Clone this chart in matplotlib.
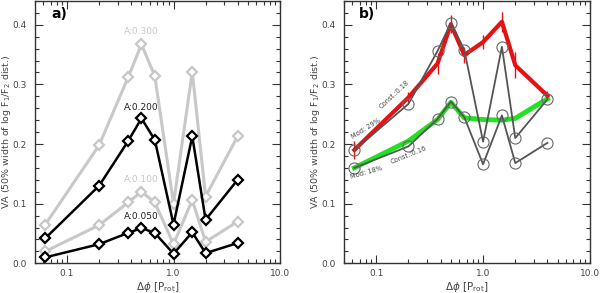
import matplotlib
matplotlib.use("Agg")
import matplotlib.pyplot as plt
from matplotlib.ticker import FixedLocator, NullFormatter, MultipleLocator

plt.rcParams['font.family'] = ['DejaVu Sans']

# ---- data ----
dphi = [0.0625, 0.2, 0.375, 0.5, 0.667, 1.0, 1.5, 2.0, 4.0]

a_300 = [0.065, 0.198, 0.312, 0.367, 0.314, 0.100, 0.321, 0.112, 0.213]
a_200 = [0.042, 0.130, 0.205, 0.243, 0.207, 0.065, 0.213, 0.073, 0.140]
a_100 = [0.020, 0.064, 0.102, 0.120, 0.102, 0.032, 0.106, 0.036, 0.070]
a_050 = [0.010, 0.032, 0.051, 0.059, 0.051, 0.016, 0.052, 0.017, 0.034]
a_labels = ["A:0.300", "A:0.200", "A:0.100", "A:0.050"]

b_obs_hi = [0.190, 0.267, 0.356, 0.403, 0.358, 0.204, 0.363, 0.210, 0.275]
b_obs_lo = [0.160, 0.196, 0.242, 0.271, 0.245, 0.166, 0.248, 0.168, 0.202]
b_red = [0.190, 0.278, 0.335, 0.401, 0.349, 0.371, 0.405, 0.332, 0.281]
b_red_err = [0.015, 0.010, 0.017, 0.015, 0.013, 0.012, 0.017, 0.022, 0.008]
b_green = [0.160, 0.205, 0.241, 0.270, 0.244, 0.241, 0.240, 0.243, 0.276]

xticks = [0.1, 1.0, 10.0]
xticklabels = ["0.1", "1.0", "10.0"]
yticks = [0.0, 0.1, 0.2, 0.3, 0.4]
yticklabels = ["0.0", "0.1", "0.2", "0.3", "0.4"]

TXT = '#444444'
LGRAY = '#c8c8c8'
DGRAY = '#555555'

fig = plt.figure(figsize=(6.0, 2.93), dpi=100)
axa = fig.add_axes([35/600, 1 - 263.3/293, 245/600, 263.3/293 - 0.003])
axb = fig.add_axes([344/600, 1 - 263.3/293, 246/600, 263.3/293 - 0.003])

def style(ax):
    ax.set_xscale('log')
    ax.set_xlim(0.05, 10)
    ax.set_ylim(0, 0.44)
    ax.xaxis.set_major_locator(FixedLocator(xticks))
    ax.set_xticklabels(xticklabels)
    minors = [m * 10.0**e for e in (-2, -1, 0) for m in range(2, 10)]
    ax.xaxis.set_minor_locator(FixedLocator(minors))
    ax.xaxis.set_minor_formatter(NullFormatter())
    ax.set_yticks(yticks)
    ax.set_yticklabels(yticklabels)
    ax.yaxis.set_minor_locator(MultipleLocator(0.02))
    ax.tick_params(which='both', direction='in', top=True, right=True,
                   colors='#333333', labelcolor=TXT, labelsize=6.5, width=0.8)
    ax.tick_params(which='major', length=6)
    ax.tick_params(which='minor', length=3)
    ax.tick_params(axis='y', pad=6)
    ax.tick_params(axis='x', pad=4)
    for s in ax.spines.values():
        s.set_color('#333333')
        s.set_linewidth(1.0)
    ax.set_xlabel(r"$\Delta\phi$ [P$_{\rm rot}$]", color=TXT, fontsize=7.5)
    ax.set_ylabel(r"VA (50% width of log F$_1$/F$_2$ dist.)", color=TXT, fontsize=6.8)
    ax.xaxis.set_label_coords(0.5, -0.065)
    ax.yaxis.set_label_coords(-0.088, 0.5)

style(axa)
style(axb)

mk = dict(marker='D', markersize=5.5, markerfacecolor='white', markeredgewidth=1.6)
axa.plot(dphi, a_300, color=LGRAY, lw=2.2, markeredgecolor=LGRAY, **mk)
axa.plot(dphi, a_200, color='black', lw=1.8, markeredgecolor='black', **mk)
axa.plot(dphi, a_100, color=LGRAY, lw=2.2, markeredgecolor=LGRAY, **mk)
axa.plot(dphi, a_050, color='black', lw=1.8, markeredgecolor='black', **mk)
for lab, val, col in zip(a_labels, [0.388, 0.262, 0.141, 0.078], [LGRAY, '#222222', LGRAY, '#222222']):
    axa.text(0.5, val, lab, color=col, fontsize=6.5, ha='center', va='center')
axa.text(0.085, 0.418, "a)", fontsize=10, fontweight='bold', va='center', ha='center')

# panel b
axb.errorbar(dphi, b_red, yerr=b_red_err, color='#e81010', lw=3, elinewidth=1, capsize=0, zorder=2)
axb.plot(dphi, b_green, color='#22e022', lw=3.5, zorder=2)
ck = dict(marker='o', markersize=8, markerfacecolor='none', markeredgecolor='#666666', markeredgewidth=0.8)
axb.plot(dphi, b_obs_hi, color=DGRAY, lw=1.3, zorder=3, **ck)
axb.plot(dphi, b_obs_lo, color=DGRAY, lw=1.3, zorder=3, **ck)
axb.text(0.082, 0.418, "b)", fontsize=10, fontweight='bold', va='center', ha='center')

axb.text(0.061, 0.207, "Mod: 29%", rotation=32, fontsize=4.8, color=TXT, ha='left', va='bottom', rotation_mode='anchor')
axb.text(0.114, 0.258, "Const.:0.18", rotation=43, fontsize=4.8, color=TXT, ha='left', va='bottom', rotation_mode='anchor')
axb.text(0.059, 0.140, "Mod: 18%", rotation=16, fontsize=4.8, color=TXT, ha='left', va='bottom', rotation_mode='anchor')
axb.text(0.14, 0.165, "Const.:0.16", rotation=22, fontsize=4.8, color=TXT, ha='left', va='bottom', rotation_mode='anchor')

fig.savefig("out.png", dpi=100)
